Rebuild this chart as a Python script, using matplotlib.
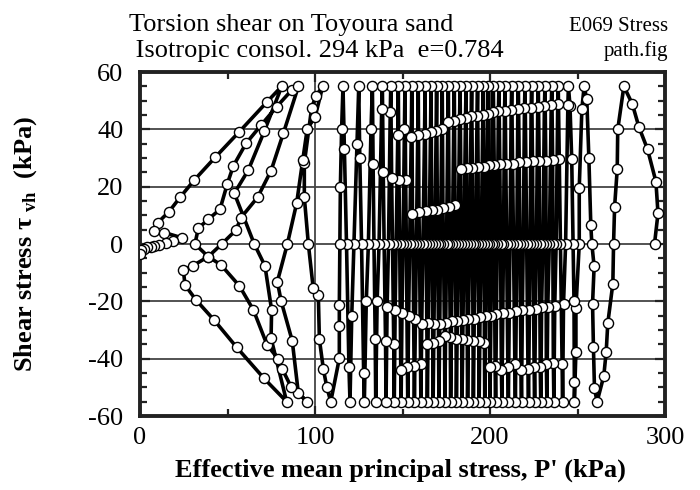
import matplotlib
matplotlib.use('Agg')
import matplotlib.pyplot as plt
from matplotlib.ticker import MultipleLocator

plt.rcParams['font.family'] = 'Liberation Serif'
plt.rcParams['mathtext.fontset'] = 'custom'
plt.rcParams['mathtext.rm'] = 'Liberation Serif'
plt.rcParams['mathtext.bf'] = 'Liberation Serif:bold'
plt.rcParams['axes.unicode_minus'] = False

TAU_PEAK = 55.0   # stress amplitude of the cyclic torsion (kPa)

# first cycles from the consolidated state (p' = 294 kPa)
p_first = [294.0, 296.0, 294.8, 290.0, 285.1, 281.3, 276.5,
           273.0, 272.7, 271.2, 270.6, 270.2, 267.3, 266.4, 265.0, 261.2,
           259.7, 259.1, 258.6, 259.5, 258.2, 257.6, 256.5, 255.3, 253.8,
           252.5, 251.0, 251.0, 249.1, 249.1, 248.2,
           248.2, 248.0, 247.5, 246.7, 245.7]
tau_first = [0, 10.7, 21.8, 33.1, 40.8, 48.9, 55,
             40, 26.1, 13, 0, -13.8, -27.7, -37.6, -46.1, -55,
             -50.4, -35.9, -20.8, -7.8, 0, 6.6, 30, 50.5, 55,
             47.2, 19.6, 0, -22.4, -37.6, -55,
             -48, -20, 0, 29.5, 48.3]

# steady cycles: peaks, zero crossings and the samples in between
p_top = [244.8, 239.0, 235.3, 231.4, 227.6, 223.8, 220.0, 216.2, 212.4, 208.6,
         205.1, 201.9, 199.0, 196.2, 192.9, 189.5, 186.3, 182.9, 179.6, 176.2,
         172.7, 169.5, 166.3, 162.9, 159.0, 155.3, 151.4, 147.6, 143.3, 138.5,
         132.8, 125.0]
p_a = [244.5, 238.7, 235.0, 231.1, 227.3, 223.5, 219.7, 215.9, 212.1, 208.3,
       204.8, 201.6, 198.7, 195.9, 192.6, 189.2, 186.0, 182.6, 179.3, 175.9,
       172.4, 169.2, 166.0, 162.6, 158.7, 155.0, 151.1, 147.3, 143.0, 138.1,
       132.0, 124.0]
tau_a = [48.5, 48.8, 48.5, 48, 47.8, 47.5, 47.5, 47, 46.8, 46.5,
         46.5, 46, 45.5, 45, 44.8, 44.5, 44, 43.5, 43, 42.7,
         40, 39.5, 39, 38.5, 38, 37.5, 40, 38, 46, 47,
         40, 35]
p_zero_dn = [243.2, 237.8, 233.9, 230.2, 226.5, 222.9, 219.0, 215.3, 211.4, 207.7,
             204.1, 201.0, 198.0, 195.0, 191.7, 188.3, 185.1, 181.8, 178.5, 175.2,
             171.7, 168.5, 165.2, 161.7, 157.9, 154.1, 150.3, 146.4, 142.0, 136.6,
             130.5, 122.3]
p_b = [242.0, 237.0, 233.0, 229.5, 226.0, 222.5, 218.5, 215.0, 211.0, 207.3,
       203.7, 200.5, 197.5, 194.3, 191.0, 187.7, 184.5, 181.3, 178.0, 174.7,
       171.3, 168.0, 164.7, 161.0, 157.3, 153.5, 149.7, 145.8, 141.2, 135.5,
       129.3, 121.0]
tau_b = [-21, -21.5, -22, -22, -22.5, -23, -23, -23.5, -24, -24,
         -24.5, -25, -25, -25.5, -26, -26, -26.5, -27, -27, -27.5,
         -28, -28, -27.5, -28, -26, -25, -24, -23, -22, -20,
         -20, -25]
p_bot = [241.5, 236.5, 232.5, 229.0, 225.5, 222.0, 218.0, 214.5, 210.5, 206.8,
         203.2, 200.0, 197.0, 193.8, 190.5, 187.2, 184.0, 180.8, 177.5, 174.2,
         170.8, 167.5, 164.2, 160.5, 156.8, 153.0, 149.2, 145.3, 140.6, 134.7,
         128.2, 120.0]
p_c = [241.2, 236.2, 232.2, 228.7, 225.2, 221.7, 217.7, 214.2, 210.2, 206.5,
       202.9, 199.8, 196.8, 193.6, 190.3, 187.0, 183.8, 180.6, 177.3, 174.0,
       170.6, 167.3, 164.0, 160.3, 156.6, 152.8, 149.0, 145.0, 140.3, 134.4,
       127.8, 119.4]
tau_c = [-42, -41.5, -42, -43, -43, -43.5, -44, -42, -43, -44,
         -42.5, -43, -34.5, -34, -34, -33.5, -33, -33, -32.5, -32,
         -34, -34.5, -35, -42, -42.5, -43, -44, -35, -34, -33,
         -45, -43]
p_zero_up = [240.2, 235.9, 232.0, 228.3, 224.6, 221.0, 217.1, 213.4, 209.5, 206.0,
             202.5, 199.5, 196.6, 193.3, 190.0, 186.7, 183.4, 180.2, 176.8, 173.4,
             170.1, 166.9, 163.5, 159.7, 156.0, 152.2, 148.4, 144.3, 139.5, 133.7,
             126.6, 118.0]
p_d = [239.5, 235.8, 231.9, 228.1, 224.3, 220.5, 216.7, 212.9, 209.1, 205.6,
       202.4, 199.4, 196.5, 193.2, 189.9, 186.6, 183.3, 180.0, 176.6, 173.1,
       169.9, 166.7, 163.3, 159.4, 155.7, 151.8, 148.0, 143.8, 139.0, 133.2,
       125.6, 116.8]
tau_d = [29.5, 29.2, 29, 29, 28.8, 28.5, 28.5, 28, 28, 27.8,
         27.5, 27.5, 27, 27, 26.5, 26.5, 26, 13.5, 13, 12.5,
         12, 12, 11.5, 11, 10.5, 22.5, 22.5, 23, 25, 28,
         30, 33]

# last cycles: cyclic mobility down to liquefaction
p_liq = [116.0, 115.2, 114.5, 114.2, 113.9, 113.9, 113.9, 109.0,
         106.7, 104.8, 102.5, 101.9, 99.0, 96.2, 93.9, 93.9, 98.1, 100.6, 104.4,
         100.0, 95.6, 93.0, 89.5, 84.2, 78.5, 80.6, 87.0, 90.5, 95.6,
         86.3, 81.3, 79.0, 72.6, 64.8, 56.8, 46.3, 39.0, 31.4, 33.3, 39.0, 45.7,
         49.9, 53.3, 60.6, 69.1, 78.1, 86.7, 90.5,
         81.9, 74.9, 67.2, 57.7, 54.9, 46.7, 39.0, 30.1, 24.8, 25.7, 32.0, 42.3,
         55.2, 70.9, 83.8,
         74.9, 75.2, 71.4, 65.3, 53.9, 61.9, 71.0, 81.0,
         72.6, 56.8, 42.9, 31.0, 22.9, 16.6, 10.1, 8.2, 13.9, 23.8, 19.0, 14.9,
         11.0, 8.0, 6.0, 4.0, 2.0, 0.5, 0.0]
tau_liq = [55, 40, 20, 0, -21.3, -28.5, -39.9, -55,
           -49.8, -43.7, -33.2, -17.8, -15.5, 0, 16.3, 28.2, 47.6, 51.7, 55,
           44.2, 40.3, 29.3, 14.2, 0, -13.1, -19.8, -33.8, -52.1, -55,
           -49.8, -43.6, -40.1, -35.2, -23, -14.6, -7.3, -4.4, 0, 5.5, 8.6, 12.1,
           21, 27.2, 35.1, 41.4, 47.9, 53.7, 55,
           38.6, 25.6, 16.3, 9.2, 4.9, 0, -4.4, -7.6, -9.1, -14.3, -19.5, -26.5,
           -36, -46.9, -55,
           -32.9, -23, -7.6, 0, 17.7, 25.8, 39.3, 55,
           49.6, 39.2, 30.2, 22.3, 16.3, 11.3, 7.4, 4.6, 4.0, 2.2, 1.0, 0.2,
           -0.5, -0.8, -1.0, -1.2, -1.6, -2.2, -3.5]

# assemble the whole stress path in loading order
p_path = list(p_first)
tau_path = list(tau_first)
for i in range(len(p_top)):
    p_path += [p_top[i], p_a[i], p_zero_dn[i], p_b[i], p_bot[i],
               p_c[i], p_zero_up[i], p_d[i]]
    tau_path += [TAU_PEAK, tau_a[i], 0, tau_b[i], -TAU_PEAK,
                 tau_c[i], 0, tau_d[i]]
p_path += p_liq
tau_path += tau_liq

fig = plt.figure(figsize=(7, 4.9), dpi=100)
ax = fig.add_axes([0.2, 0.151, 0.75, 0.702])

ax.plot(p_path, tau_path, '-o', color='black', lw=2.6, ms=7.3,
        mfc='white', mec='black', mew=1.0, zorder=3)

ax.set_xlim(0, 300)
ax.set_ylim(-60, 60)
ax.xaxis.set_major_locator(MultipleLocator(100))
ax.xaxis.set_minor_locator(MultipleLocator(50))
ax.yaxis.set_major_locator(MultipleLocator(20))
ax.yaxis.set_minor_locator(MultipleLocator(5))
ax.tick_params(which='both', direction='in', top=True, right=True,
               color='#222222', width=1.6)
ax.tick_params(which='major', length=7, labelsize=19)
ax.tick_params(which='minor', length=5)
ax.tick_params(axis='y', pad=12)
ax.tick_params(axis='x', pad=8)
ax.grid(True, which='major', color='#444444', lw=1.3)
for s in ax.spines.values():
    s.set_linewidth(2.8)
    s.set_color('#222222')

fig.text(0.572, 0.041, "Effective mean principal stress, P' (kPa)",
         ha='center', va='center', fontsize=19, fontweight='bold')
fig.text(0.036, 0.502, r'Shear stress $\mathbf{\tau}_{\ \mathbf{vh}}$  (kPa)',
         ha='center', va='center', rotation=90, fontsize=19, fontweight='bold')

fig.text(0.184, 0.937, 'Torsion shear on Toyoura sand', fontsize=19,
         ha='left', va='baseline')
fig.text(0.184, 0.883, ' Isotropic consol. 294 kPa  e=0.784', fontsize=19,
         ha='left', va='baseline')
fig.text(0.955, 0.937, 'E069 Stress', fontsize=15, ha='right', va='baseline')
fig.text(0.955, 0.885, 'path.fig', fontsize=15, ha='right', va='baseline')

fig.savefig('out.png', dpi=100)
